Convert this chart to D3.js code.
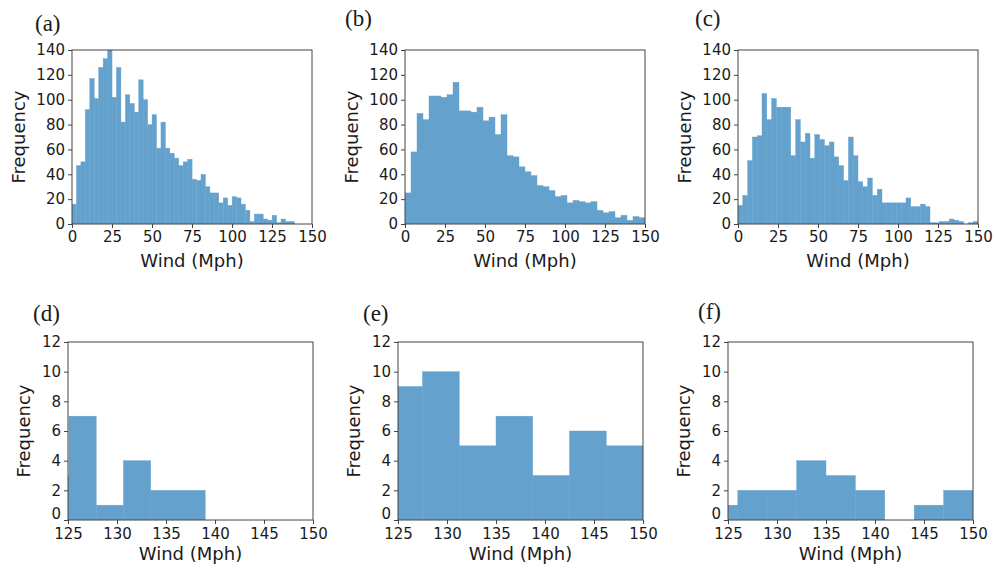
<!DOCTYPE html>
<html>
<head>
<meta charset="utf-8">
<script src="https://cdn.jsdelivr.net/npm/d3@7"></script>
<style>
  body { margin: 0; background: #fff; }
  text { font-family: "DejaVu Sans", sans-serif; fill: #1a1a1a; }
  .panel-label { font-family: "Liberation Serif", "Times New Roman", serif; }
</style>
</head>
<body>
<svg id="fig" width="994" height="574"></svg>
<script>
// Histogram counts of wind speed (mph). Each series is binned from 0 mph.
const binWidthA = 2.78;   // 50 bins
const countsA = [16, 47, 50, 92, 117, 101, 126, 133, 140, 102,
                 126, 82, 104, 97, 90, 116, 100, 80, 88, 61,
                 82, 61, 57, 53, 47, 50, 52, 36, 35, 40,
                 30, 25, 25, 17, 21, 15, 22, 21, 16, 11,
                 2, 8, 8, 4, 3, 7, 1, 4, 2, 2];

const binWidthB = 3.75;   // 40 bins
const countsB = [25, 58, 89, 84, 103, 103, 102, 104, 114, 91,
                 91, 90, 94, 83, 86, 72, 88, 55, 54, 46,
                 42, 39, 31, 30, 27, 22, 23, 17, 19, 18,
                 17, 18, 11, 9, 10, 5, 7, 3, 6, 5];

const binWidthC = 3;      // 50 bins
const countsC = [15, 23, 51, 70, 71, 105, 84, 101, 94, 94,
                 94, 55, 84, 66, 73, 53, 72, 68, 63, 66,
                 54, 47, 35, 70, 55, 34, 30, 37, 23, 28,
                 17, 17, 17, 17, 17, 21, 14, 14, 16, 14,
                 1, 1, 2, 2, 4, 3, 2, 0, 1, 2];

// Axis ranges and ticks
const fullDomainX = [0, 150];
const fullDomainY = [0, 140];
const fullTicksX = [0, 25, 50, 75, 100, 125, 150];
const fullTicksY = [0, 20, 40, 60, 80, 100, 120, 140];

const tailDomainX = [125, 150];
const tailDomainY = [0, 12];
const tailTicksX = [125, 130, 135, 140, 145, 150];
const tailTicksY = [0, 2, 4, 6, 8, 10, 12];

const panelNames = ["(a)", "(b)", "(c)", "(d)", "(e)", "(f)"];
const xLabel = "Wind (Mph)";
const yLabel = "Frequency";

const series = [
  { counts: countsA, width: binWidthA },
  { counts: countsB, width: binWidthB },
  { counts: countsC, width: binWidthC }
];

// Layout of the 2 x 3 grid
const panels = [
  { s: 0, full: true,  box: { x: 72,  y: 50,  w: 240, h: 174 }, lab: [35, 31],   ylab: 25 },
  { s: 1, full: true,  box: { x: 405, y: 50,  w: 240, h: 174 }, lab: [345, 26],  ylab: 358 },
  { s: 2, full: true,  box: { x: 738, y: 50,  w: 240, h: 174 }, lab: [695, 26],  ylab: 691 },
  { s: 0, full: false, box: { x: 68,  y: 342, w: 245, h: 178 }, lab: [33, 321],  ylab: 30 },
  { s: 1, full: false, box: { x: 398, y: 342, w: 245, h: 178 }, lab: [363, 321], ylab: 360 },
  { s: 2, full: false, box: { x: 728, y: 342, w: 245, h: 178 }, lab: [698, 319], ylab: 690 }
];

const barColor = "#64a2cd";
const spineColor = "#444";
const svg = d3.select("#fig");
const defs = svg.append("defs");

panels.forEach((p, idx) => {
  const b = p.box;
  const data = series[p.s];
  const xDom = p.full ? fullDomainX : tailDomainX;
  const yDom = p.full ? fullDomainY : tailDomainY;
  const xTicks = p.full ? fullTicksX : tailTicksX;
  const yTicks = p.full ? fullTicksY : tailTicksY;

  const x = d3.scaleLinear().domain(xDom).range([b.x, b.x + b.w]);
  const y = d3.scaleLinear().domain(yDom).range([b.y + b.h, b.y]);

  const clipId = "clip" + idx;
  defs.append("clipPath").attr("id", clipId)
    .append("rect").attr("x", b.x).attr("y", b.y).attr("width", b.w).attr("height", b.h);

  const g = svg.append("g");

  // bars
  const bins = data.counts.map((c, i) => ({ x0: i * data.width, x1: (i + 1) * data.width, c }))
    .filter(d => d.c > 0 && d.x1 > xDom[0] && d.x0 < xDom[1]);

  g.append("g").attr("clip-path", `url(#${clipId})`)
    .selectAll("rect").data(bins).join("rect")
    .attr("x", d => x(d.x0))
    .attr("width", d => x(d.x1) - x(d.x0))
    .attr("y", d => y(d.c))
    .attr("height", d => y(0) - y(d.c))
    .attr("fill", barColor)
    .attr("stroke", barColor)
    .attr("stroke-width", 0.4);

  // axes
  const xAxis = d3.axisBottom(x).tickValues(xTicks).tickSize(4).tickPadding(p.full ? 3 : 4).tickFormat(d3.format("d"));
  const yAxis = d3.axisLeft(y).tickValues(yTicks).tickSize(4).tickPadding(3).tickFormat(d3.format("d"));

  const gx = g.append("g").attr("transform", `translate(0,${b.y + b.h})`).call(xAxis);
  const gy = g.append("g").attr("transform", `translate(${b.x},0)`).call(yAxis);
  [gx, gy].forEach(a => {
    a.select(".domain").remove();
    a.selectAll(".tick line").attr("stroke", spineColor).attr("stroke-width", 1);
    a.selectAll(".tick text").attr("font-size", 15).attr("fill", "#1a1a1a")
      .attr("font-family", "DejaVu Sans, sans-serif");
  });
  // in the short tail panels the lowest y label sits just above the first x label
  if (!p.full) {
    gy.selectAll(".tick text").filter(d => d === yDom[0]).attr("dy", "-0.1em");
  }

  // frame
  g.append("rect")
    .attr("x", b.x).attr("y", b.y).attr("width", b.w).attr("height", b.h)
    .attr("fill", "none").attr("stroke", spineColor).attr("stroke-width", 1);

  // axis titles
  g.append("text")
    .attr("x", b.x + b.w / 2)
    .attr("y", b.y + b.h + (p.full ? 43 : 40))
    .attr("text-anchor", "middle")
    .attr("font-size", 18)
    .text(xLabel);

  g.append("text")
    .attr("transform", `translate(${p.ylab},${b.y + b.h / 2}) rotate(-90)`)
    .attr("text-anchor", "middle")
    .attr("font-size", 18)
    .text(yLabel);

  // panel letter
  g.append("text")
    .attr("class", "panel-label")
    .attr("x", p.lab[0]).attr("y", p.lab[1])
    .attr("font-size", 23)
    .text(panelNames[idx]);
});
</script>
</body>
</html>
